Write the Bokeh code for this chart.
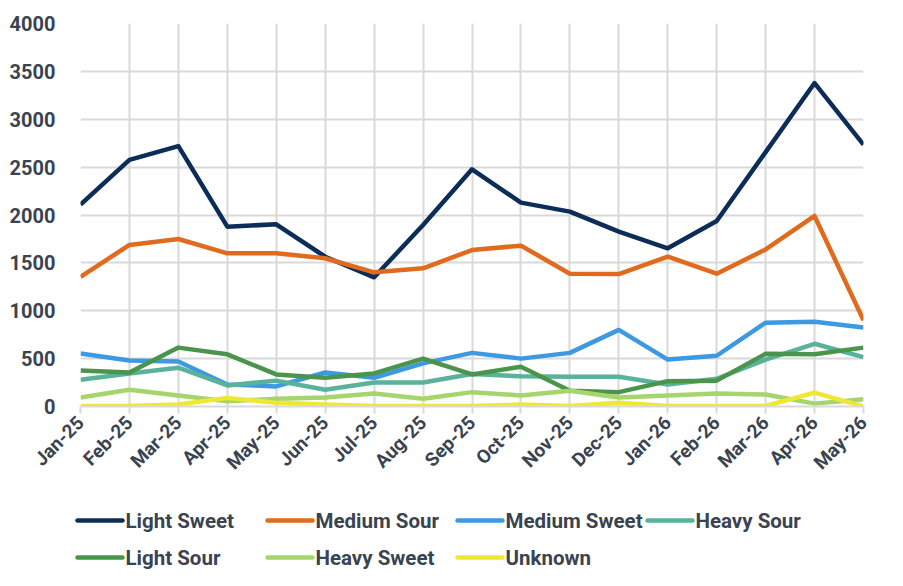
from bokeh.plotting import figure
from bokeh.models import Range1d, FixedTicker, ColumnDataSource
from bokeh.core.properties import value
from bokeh.layouts import column
from bokeh.embed import file_html
from bokeh.resources import INLINE

months = ["Jan-25", "Feb-25", "Mar-25", "Apr-25", "May-25", "Jun-25", "Jul-25", "Aug-25",
          "Sep-25", "Oct-25", "Nov-25", "Dec-25", "Jan-26", "Feb-26", "Mar-26", "Apr-26", "May-26"]

light_sweet = [2110, 2575, 2720, 1878, 1903, 1564, 1349, 1895, 2477, 2129, 2035, 1826, 1652, 1937, 2657, 3378, 2734]
medium_sour = [1355, 1687, 1749, 1600, 1600, 1548, 1401, 1443, 1634, 1680, 1387, 1383, 1565, 1387, 1640, 1990, 900]
medium_sweet = [553, 480, 470, 230, 210, 355, 300, 450, 560, 500, 560, 800, 490, 530, 875, 885, 825]
heavy_sour = [280, 345, 405, 220, 270, 175, 250, 250, 340, 315, 310, 310, 230, 290, 490, 655, 515]
light_sour = [375, 355, 615, 545, 335, 300, 345, 500, 335, 415, 165, 150, 265, 270, 550, 545, 615]
heavy_sweet = [95, 175, 115, 55, 80, 95, 135, 80, 150, 115, 165, 95, 115, 135, 125, 30, 75]
unknown = [5, 5, 20, 90, 40, 20, 5, 5, 5, 20, 5, 40, 5, 5, 5, 145, 0]

series_names = ["Light Sweet", "Medium Sour", "Medium Sweet", "Heavy Sour",
                "Light Sour", "Heavy Sweet", "Unknown"]
series_values = [light_sweet, medium_sour, medium_sweet, heavy_sour,
                 light_sour, heavy_sweet, unknown]
colors = ["#0c2d57", "#e06b1e", "#3c99e2", "#5bb29a", "#4a944c", "#a6d46d", "#eee834"]

y_ticks = [0, 500, 1000, 1500, 2000, 2500, 3000, 3500, 4000]

text_color = "#3a4350"
grid_color = "#d9d9d9"

BL, BR = 80, 40  # left / right borders shared by both panels
W = 903

p = figure(width=W, height=490, output_backend="svg", toolbar_location=None,
           x_range=Range1d(0, len(months) - 1), y_range=Range1d(0, 4000),
           min_border_left=BL, min_border_right=BR, min_border_top=23, min_border_bottom=84)
p.outline_line_color = None
p.background_fill_color = "white"
p.border_fill_color = "white"

xs = list(range(len(months)))
for name, vals, c in zip(series_names, series_values, colors):
    p.line(xs, vals, line_color=c, line_width=4.5, line_join="round")

# axes
p.xaxis.ticker = FixedTicker(ticks=xs)
p.xaxis.major_label_overrides = {i: m for i, m in enumerate(months)}
p.xaxis.major_label_orientation = 0.785398
p.xaxis.major_label_text_font = "Roboto"
p.xaxis.major_label_text_font_style = "bold"
p.xaxis.major_label_text_font_size = "19px"
p.xaxis.major_label_text_color = text_color
p.xaxis.axis_line_color = grid_color
p.xaxis.axis_line_width = 2
p.xaxis.major_tick_line_color = grid_color
p.xaxis.major_tick_line_width = 2
p.xaxis.major_tick_out = 7
p.xaxis.major_tick_in = 0
p.xaxis.minor_tick_line_color = None
p.xaxis.major_label_standoff = 6

p.yaxis.ticker = FixedTicker(ticks=y_ticks)
p.yaxis.major_label_text_font = "Roboto"
p.yaxis.major_label_text_font_style = "bold"
p.yaxis.major_label_text_font_size = "20px"
p.yaxis.major_label_text_color = text_color
p.yaxis.axis_line_color = None
p.yaxis.major_tick_line_color = None
p.yaxis.minor_tick_line_color = None
p.yaxis.major_label_standoff = 19

p.xgrid.ticker = FixedTicker(ticks=xs)
p.ygrid.ticker = FixedTicker(ticks=y_ticks)
for g in (p.xgrid, p.ygrid):
    g.grid_line_color = grid_color
    g.grid_line_width = 2

# legend panel: data coordinates equal page pixels (x rightward, y downward)
LG_H = 96
lg = figure(width=W, height=LG_H, output_backend="svg", toolbar_location=None,
            x_axis_type=None, y_axis_type=None,
            x_range=Range1d(BL, W - BR), y_range=Range1d(LG_H, 0),
            min_border_left=BL, min_border_right=BR, min_border_top=0, min_border_bottom=0)
lg.outline_line_color = None
lg.grid.visible = False
lg.background_fill_color = "white"
lg.border_fill_color = "white"

n_cols = 4
col_x0, col_pitch = 77, 190
row_y0, row_pitch = 30, 37
sample_len, text_gap = 45, 3
x0s, x1s, ys, tx = [], [], [], []
for i in range(len(series_names)):
    r, cidx = divmod(i, n_cols)
    x0 = col_x0 + cidx * col_pitch
    y = row_y0 + r * row_pitch
    x0s.append(x0)
    x1s.append(x0 + sample_len)
    ys.append(y)
    tx.append(x0 + sample_len + text_gap)

src = ColumnDataSource(dict(x0=x0s, x1=x1s, y=ys, tx=tx, name=series_names, color=colors))
lg.segment(x0="x0", y0="y", x1="x1", y1="y", line_color="color", line_width=4.5,
           line_cap="round", source=src, level="overlay")
lg.text(x="tx", y="y", text="name", source=src, text_font=value("Roboto"),
        text_font_style="bold", text_font_size=value("20.5px"), text_color=text_color,
        text_baseline="middle", text_align="left", level="overlay")

layout = column(p, lg, spacing=0)
open("out.html", "w").write(file_html(layout, INLINE))
